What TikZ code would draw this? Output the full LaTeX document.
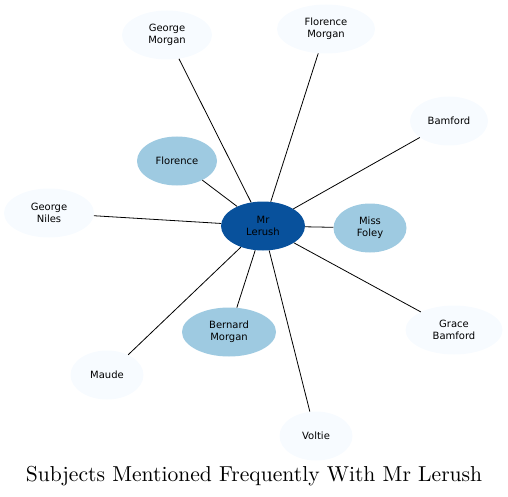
\documentclass[tikz,border=0pt]{standalone}
\usepackage{fontspec}
\newfontfamily\knotenfont{DejaVu Sans}
\newfontfamily\titelfont{lmroman10-regular.otf}
\usetikzlibrary{shapes.geometric}
\usetikzlibrary{positioning}

\begin{document}
\begin{tikzpicture}[
	x=1pt,
	y=-1pt,
	on grid,
	linie/.style={
		line width=0.8pt,
		black
	},
	person/.style={
		ellipse,
		inner sep=0pt,
		minimum height=49pt,
		minimum width=73pt,
		align=center,
		font=\knotenfont\fontsize{10}{12}\selectfont
	},
	fern/.style={
		person,
		fill={rgb,255:red,247;green,251;blue,255}
	},
	nah/.style={
		person,
		fill={rgb,255:red,158;green,202;blue,225}
	},
	zentrum/.style={
		person,
		minimum width=84pt,
		fill={rgb,255:red,8;green,81;blue,156}
	}
]
\useasboundingbox (0,0) rectangle (508,497);

\node[zentrum] (LERUSH) at (263,226) {Mr\\Lerush};

\node[nah] (FOLEY) [below right=2pt and 107pt of LERUSH] {Miss\\Foley};
\node[nah, minimum width=80pt] (FLORENCE) [above left=65pt and 86pt of LERUSH] {Florence};
\node[nah, minimum width=94pt] (BERNARD) [below left=106pt and 34pt of LERUSH] {Bernard\\Morgan};

\node[fern, minimum width=90pt] (GMORGAN) [above left=191pt and 96pt of LERUSH] {George\\Morgan};
\node[fern, minimum width=98pt] (FMORGAN) [above right=197pt and 63pt of LERUSH] {Florence\\Morgan};
\node[fern, minimum width=78pt] (BAMFORD) [above right=105pt and 186pt of LERUSH] {Bamford};
\node[fern, minimum width=90pt] (NILES) [above left=13pt and 214pt of LERUSH] {George\\Niles};
\node[fern, minimum width=97pt] (GRACE) [below right=104pt and 191pt of LERUSH] {Grace\\Bamford};
\node[fern] (MAUDE) [below left=149pt and 156pt of LERUSH] {Maude};
\node[fern] (VOLTIE) [below right=210pt and 53pt of LERUSH] {Voltie};

\node (TITEL) at (254,476) {\titelfont\fontsize{21.6}{26}\selectfont Subjects Mentioned Frequently With Mr Lerush};

\draw[linie] (LERUSH) -- (FOLEY);
\draw[linie] (LERUSH) -- (FLORENCE);
\draw[linie] (LERUSH) -- (BERNARD);
\draw[linie] (LERUSH) -- (GMORGAN);
\draw[linie] (LERUSH) -- (FMORGAN);
\draw[linie] (LERUSH) -- (BAMFORD);
\draw[linie] (LERUSH) -- (NILES);
\draw[linie] (LERUSH) -- (GRACE);
\draw[linie] (LERUSH) -- (MAUDE);
\draw[linie] (LERUSH) -- (VOLTIE);

\end{tikzpicture}
\end{document}
